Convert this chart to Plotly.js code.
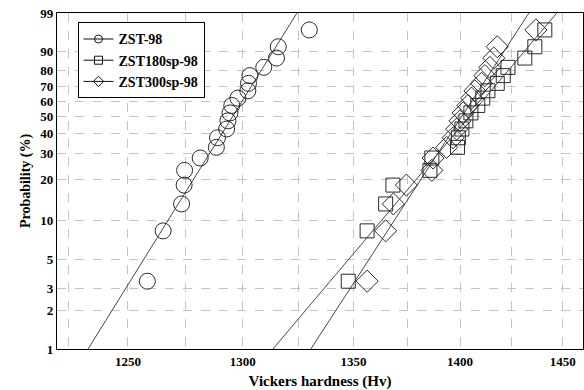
<!DOCTYPE html>
<html>
<head>
<meta charset="utf-8">
<script src="https://cdn.plot.ly/plotly-3.0.1.min.js"></script>
<style>html,body{margin:0;padding:0;background:#fff;}#chart{width:584px;height:390px;}</style>
</head>
<body>
<div id="chart"></div>
<script>
// Probability plotting positions (%) shared by all three series
const probabilities = [3.4, 8.3, 13.2, 18.1, 23.0, 27.9, 32.8, 37.7, 42.6, 47.5, 52.5, 57.4, 62.3, 67.2, 72.1, 77.0, 81.9, 86.8, 91.7, 96.6];

const seriesNames = ["ZST-98", "ZST180sp-98", "ZST300sp-98"];
const zst98 = [1258.3, 1265.1, 1273.1, 1274.2, 1274.4, 1281.2, 1288.3, 1288.8, 1292.8, 1293.4, 1294.3, 1295.1, 1297.8, 1302.2, 1302.5, 1303.1, 1309.3, 1315.0, 1315.8, 1329.8];
const zst180sp98 = [1347.6, 1356.3, 1364.9, 1368.3, 1385.7, 1386.6, 1398.8, 1399.2, 1400.9, 1402.8, 1405.2, 1408.5, 1410.9, 1413.4, 1417.9, 1420.8, 1423.1, 1431.3, 1436.2, 1441.1];
const zst300sp98 = [1356.3, 1364.9, 1368.5, 1374.6, 1386.6, 1387.2, 1393.6, 1396.7, 1398.4, 1400.0, 1401.5, 1403.8, 1405.5, 1407.1, 1410.3, 1411.9, 1414.3, 1416.2, 1417.9, 1436.7];

// Fitted Weibull lines: hardness at 1 % and at 99 % probability
const fitLowHv = [1233.1, 1313.4, 1330.5];
const fitHighHv = [1324.2, 1447.0, 1433.3];
const fitProb = [1, 99];

const yTickLabels = [1, 2, 3, 5, 10, 20, 30, 40, 50, 60, 70, 80, 90, 99];
const xGridVals = [1225, 1250, 1275, 1300, 1325, 1350, 1375, 1400, 1425, 1450];
const xLabelVals = [1250, 1300, 1350, 1400, 1450];

// Weibull probability scale
function wb(p) { return Math.log(-Math.log(1 - p / 100)); }

const symbols = ["circle-open", "square-open", "diamond-open"];
const sizes = [16, 14, 17];
const dataSets = [zst98, zst180sp98, zst300sp98];
const mk = "#2a2a2a";
const lineCol = "#333";

const traces = [];
// fitted lines
for (let i = 0; i < 3; i++) {
  traces.push({
    x: [fitLowHv[i], fitHighHv[i]],
    y: fitProb.map(wb),
    mode: "lines", type: "scatter",
    line: {color: lineCol, width: 0.9},
    showlegend: false, hoverinfo: "skip"
  });
}
// data markers
for (let i = 0; i < 3; i++) {
  traces.push({
    x: dataSets[i],
    y: probabilities.map(wb),
    mode: "markers", type: "scatter",
    marker: {symbol: symbols[i], size: sizes[i], color: mk, line: {width: 1, color: mk}},
    showlegend: false
  });
}
// legend entries
for (let i = 0; i < 3; i++) {
  traces.push({
    x: [null], y: [null],
    mode: "lines+markers", type: "scatter",
    name: "<b>" + seriesNames[i] + "</b>",
    line: {color: "#111", width: 1},
    marker: {symbol: symbols[i], size: 8, color: "#111", line: {width: 1, color: "#111"}}
  });
}

const serif = "Liberation Serif, Times New Roman, serif";

const layout = {
  width: 584, height: 390,
  margin: {l: 57, r: 1, t: 13, b: 41},
  paper_bgcolor: "#fff", plot_bgcolor: "#fff",
  font: {family: serif, size: 13, color: "#000"},
  showlegend: true,
  legend: {
    x: 0.039, y: 0.972, xanchor: "left", yanchor: "top",
    bgcolor: "#fff", bordercolor: "#000", borderwidth: 1,
    font: {family: serif, size: 14, color: "#000"},
    tracegroupgap: 0
  },
  xaxis: {
    type: "log",
    range: [Math.log10(1220.1), Math.log10(1460)],
    tickmode: "array",
    tickvals: xGridVals,
    ticktext: xGridVals.map(v => xLabelVals.includes(v) ? "<b>" + v + "</b>" : ""),
    ticks: "",
    showgrid: true, gridcolor: "#c4c4c4", griddash: "dash", gridwidth: 1,
    showline: true, linecolor: "#000", linewidth: 1.2, mirror: true,
    zeroline: false,
    tickfont: {family: serif, size: 13, color: "#000"},
    title: {text: "<b>Vickers hardness (Hv)</b>", font: {family: serif, size: 15, color: "#000"}, standoff: 8}
  },
  yaxis: {
    range: [wb(1), wb(99)],
    tickmode: "array",
    tickvals: yTickLabels.map(wb),
    ticktext: yTickLabels.map(v => "<b>" + v + "</b>"),
    ticks: "",
    showgrid: true, gridcolor: "#c4c4c4", griddash: "dash", gridwidth: 1,
    showline: true, linecolor: "#000", linewidth: 1.2, mirror: true,
    zeroline: false,
    tickfont: {family: serif, size: 13, color: "#000"},
    title: {text: "<b>Probability (%)</b>", font: {family: serif, size: 14, color: "#000"}, standoff: 6}
  }
};

Plotly.newPlot("chart", traces, layout, {staticPlot: true, displayModeBar: false});
</script>
</body>
</html>
